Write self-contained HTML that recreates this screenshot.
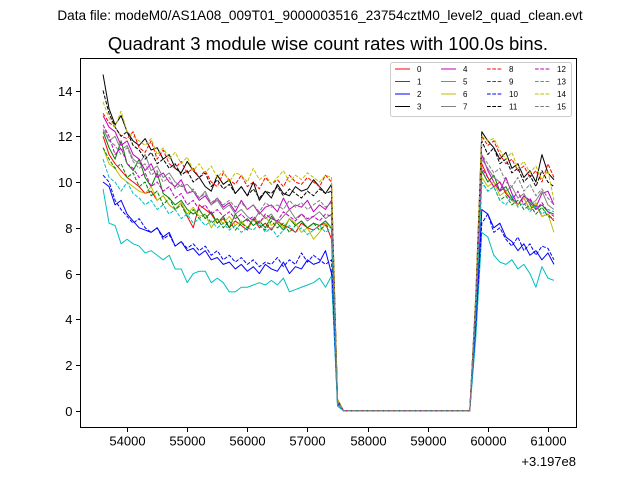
<!DOCTYPE html>
<html><head><meta charset="utf-8"><style>
body{margin:0;background:#fff;}
svg{display:block;font-family:"Liberation Sans","DejaVu Sans",sans-serif;}
</style></head><body>
<svg id="chart" width="640" height="480" viewBox="0 0 640 480">
<rect width="640" height="480" fill="#fff"/>
<text x="320" y="20" font-size="13.6" text-anchor="middle">Data file: modeM0/AS1A08_009T01_9000003516_23754cztM0_level2_quad_clean.evt</text>
<text x="328" y="50" font-size="18.5" text-anchor="middle">Quadrant 3 module wise count rates with 100.0s bins.</text>
<g id="series"></g>
<rect x="80.5" y="58.5" width="496" height="369" fill="none" stroke="#000" stroke-width="1"/>
<g id="axes"></g>
<text x="576" y="466" font-size="13" text-anchor="end">+3.197e8</text>
<g id="legend"></g>
</svg>
<script>
const tStart = 53600;
const binSize = 100;
const yTicks = [0,2,4,6,8,10,12,14];
const xTicks = [54000,55000,56000,57000,58000,59000,60000,61000];
const seriesNames = ["0","1","2","3","4","5","6","7","8","9","10","11","12","13","14","15"];
const colors = ["#ff0000","#008000","#0000ff","#000000","#bf00bf","#00bfbf","#bfbf00","#808080","#ff0000","#008000","#0000ff","#000000","#bf00bf","#00bfbf","#bfbf00","#808080"];
const s0 = [12.0,11.2,10.8,10.5,10.2,10.0,9.8,9.5,9.6,9.2,9.4,9.0,8.8,9.1,8.5,8.0,9.0,8.8,8.6,8.2,8.4,8.0,8.3,8.1,7.9,8.4,8.0,8.2,7.9,8.3,8.1,8.0,7.8,8.2,8.0,7.9,8.1,8.2,7.5,0.4,0,0,0,0,0,0,0,0,0,0,0,0,0,0,0,0,0,0,0,0,0,0,4.5,10.8,10.2,9.8,10.0,9.5,9.2,9.0,9.3,8.8,9.0,8.5,8.6,8.3];
const s1 = [12.2,11.5,11.0,11.8,10.8,10.5,11.0,10.2,9.8,10.4,9.5,9.3,9.0,9.2,8.8,8.6,8.8,8.4,8.7,8.2,8.5,8.0,8.6,8.2,8.4,8.1,8.3,8.0,8.5,8.2,7.9,8.4,8.1,8.3,8.0,8.2,8.1,8.3,8.0,0.4,0,0,0,0,0,0,0,0,0,0,0,0,0,0,0,0,0,0,0,0,0,0,4.3,10.5,10.0,10.3,9.6,9.8,9.3,9.0,9.4,9.1,8.8,9.0,8.7,8.6];
const s2 = [10.0,9.8,9.0,9.2,8.6,8.3,8.0,7.9,7.8,8.0,7.6,7.8,7.2,7.4,7.0,7.1,6.8,7.0,6.6,6.7,6.4,6.5,6.2,6.4,6.1,6.3,6.0,6.4,6.2,6.1,6.5,6.0,6.3,6.2,6.6,6.4,6.5,7.0,6.0,0.3,0,0,0,0,0,0,0,0,0,0,0,0,0,0,0,0,0,0,0,0,0,0,3.8,8.8,8.6,8.0,8.2,7.6,7.4,7.0,7.3,6.8,7.0,6.6,6.9,6.4];
const s3 = [14.7,13.2,12.5,12.9,12.2,11.8,11.6,11.9,11.4,11.5,11.0,11.2,10.6,10.4,10.9,10.5,10.2,9.8,9.6,10.3,9.9,10.1,9.5,9.8,9.4,10.0,9.2,9.6,9.3,9.9,9.5,9.4,9.8,9.6,9.7,10.1,9.8,9.5,9.9,0.5,0,0,0,0,0,0,0,0,0,0,0,0,0,0,0,0,0,0,0,0,0,0,5.0,12.2,11.8,11.5,11.0,11.3,10.6,10.8,10.2,10.5,10.0,11.2,10.4,10.1];
const s4 = [12.9,12.4,12.2,11.6,11.8,11.2,11.0,10.5,10.8,10.2,10.4,10.0,9.8,10.1,9.5,9.6,9.2,9.4,9.0,9.3,8.9,9.1,8.7,9.2,8.8,9.0,8.6,8.9,9.0,8.7,9.3,8.8,9.0,8.9,9.2,8.7,9.0,8.8,9.2,0.4,0,0,0,0,0,0,0,0,0,0,0,0,0,0,0,0,0,0,0,0,0,0,4.6,11.2,10.5,10.0,9.6,10.2,9.5,9.0,9.4,9.2,8.9,9.5,9.6,9.0];
const s5 = [9.7,8.2,8.1,7.3,7.5,7.3,7.2,6.9,7.0,6.8,6.6,6.8,6.2,6.2,5.6,6.0,6.1,6.1,5.6,5.8,5.6,5.2,5.2,5.4,5.4,5.5,5.6,5.5,5.7,5.5,5.8,5.2,5.3,5.4,5.5,5.6,5.8,5.4,5.9,0.2,0,0,0,0,0,0,0,0,0,0,0,0,0,0,0,0,0,0,0,0,0,0,3.2,7.8,7.6,6.8,6.5,6.4,6.6,6.2,6.4,6.0,5.4,6.3,5.8,5.7];
const s6 = [11.5,10.8,10.6,10.2,10.0,9.8,9.6,9.5,9.8,9.2,9.4,9.0,8.8,9.1,8.6,8.9,8.5,8.6,8.0,8.4,8.2,8.5,8.1,8.3,8.0,8.4,8.2,8.5,8.1,8.3,8.0,8.4,8.2,7.8,8.0,7.5,7.8,8.2,8.0,0.4,0,0,0,0,0,0,0,0,0,0,0,0,0,0,0,0,0,0,0,0,0,0,4.5,10.2,9.8,10.0,9.4,9.6,9.2,9.0,9.3,8.8,9.1,8.5,8.6,7.8];
const s7 = [12.3,11.8,12.0,11.4,11.6,11.0,10.8,11.2,10.5,10.7,10.2,10.4,10.0,9.8,9.9,9.6,9.3,9.6,9.0,9.2,8.8,9.0,8.6,8.8,8.5,8.3,8.7,8.4,8.6,8.2,8.5,8.8,8.4,8.6,8.3,8.5,8.7,8.4,8.6,0.4,0,0,0,0,0,0,0,0,0,0,0,0,0,0,0,0,0,0,0,0,0,0,4.8,11.0,10.6,10.2,10.0,9.6,9.8,9.3,9.5,9.0,9.2,9.6,9.0,8.8];
const s8 = [13.0,12.6,12.4,12.0,11.9,12.2,11.5,11.3,11.8,11.0,11.4,10.8,10.6,10.9,10.4,10.6,10.2,10.5,10.0,9.8,10.4,10.1,9.9,10.3,9.8,10.0,9.7,10.2,9.9,10.1,9.8,10.3,10.0,9.9,10.2,10.0,9.8,10.3,10.0,0.5,0,0,0,0,0,0,0,0,0,0,0,0,0,0,0,0,0,0,0,0,0,0,5.0,12.0,11.6,11.8,11.2,10.8,11.0,10.5,10.7,10.2,10.5,10.0,10.8,10.2];
const s9 = [11.5,11.0,10.6,10.8,10.2,10.4,9.8,10.0,9.4,9.6,9.0,9.3,8.8,9.0,8.5,8.8,8.4,8.6,8.2,8.4,8.0,8.3,7.9,8.2,8.0,8.4,8.1,7.9,8.3,8.0,8.2,7.8,8.1,8.3,8.0,8.2,7.9,8.1,8.0,0.4,0,0,0,0,0,0,0,0,0,0,0,0,0,0,0,0,0,0,0,0,0,0,4.3,10.0,9.6,9.8,9.2,9.4,9.0,9.2,8.8,9.0,8.6,8.9,8.5,8.4];
const s10 = [10.3,10.0,9.2,8.8,8.5,8.2,8.4,8.0,7.8,8.0,7.5,7.7,7.2,7.4,7.1,7.3,7.0,7.2,6.8,7.0,6.6,6.8,6.5,6.7,6.4,6.6,6.3,6.5,6.4,6.7,6.3,6.6,6.4,6.9,6.5,6.8,6.6,6.4,6.6,0.3,0,0,0,0,0,0,0,0,0,0,0,0,0,0,0,0,0,0,0,0,0,0,3.7,8.2,8.6,7.8,8.0,7.5,7.2,7.6,7.0,7.3,6.8,7.2,7.1,6.6];
const s11 = [14.0,13.0,12.4,12.0,12.2,11.6,11.4,11.0,11.3,10.8,11.0,10.6,10.8,10.3,10.5,10.0,10.2,10.4,9.8,10.1,9.7,9.9,9.5,9.8,9.4,9.7,9.3,9.6,9.5,9.8,9.4,9.7,9.5,9.3,9.6,9.4,9.7,9.5,9.6,0.5,0,0,0,0,0,0,0,0,0,0,0,0,0,0,0,0,0,0,0,0,0,0,4.9,11.8,11.2,11.5,10.8,11.0,10.4,10.6,10.0,10.3,9.8,10.5,10.0,9.8];
const s12 = [12.5,12.0,11.2,11.5,10.8,10.6,10.2,10.4,9.8,10.0,9.6,9.8,9.3,9.5,9.0,9.2,8.8,9.0,8.6,8.8,8.5,8.7,8.4,8.6,8.3,8.5,8.2,8.6,8.4,8.3,8.7,8.5,8.3,8.6,8.4,8.5,8.3,8.6,8.5,0.4,0,0,0,0,0,0,0,0,0,0,0,0,0,0,0,0,0,0,0,0,0,0,4.6,10.6,10.2,9.8,10.0,9.5,9.2,9.6,9.0,9.3,8.8,9.1,8.7,8.5];
const s13 = [11.0,10.2,10.0,9.6,10.0,9.5,9.3,9.0,9.2,8.8,9.0,8.6,8.8,8.4,8.6,8.2,8.4,8.1,8.3,8.0,8.2,7.9,8.1,7.8,8.0,7.9,8.2,7.8,8.0,7.6,7.9,8.1,7.8,8.0,7.7,7.9,8.1,7.8,8.0,0.3,0,0,0,0,0,0,0,0,0,0,0,0,0,0,0,0,0,0,0,0,0,0,4.2,10.0,9.6,9.8,9.2,9.0,9.4,8.9,9.1,8.7,9.0,8.6,8.8,8.7];
const s14 = [13.5,12.8,12.4,13.1,12.2,12.0,11.8,11.6,11.9,11.2,11.5,11.0,11.3,10.8,11.1,10.5,10.8,10.4,10.7,10.2,10.5,10.0,10.4,10.3,10.0,10.6,10.1,10.3,9.9,10.2,10.5,10.0,10.3,10.1,10.4,10.2,10.0,10.3,10.2,0.5,0,0,0,0,0,0,0,0,0,0,0,0,0,0,0,0,0,0,0,0,0,0,5.2,12.0,11.8,11.9,11.4,11.0,11.3,10.6,10.9,10.4,10.7,10.1,10.5,9.2];
const s15 = [12.5,11.8,11.6,11.2,11.5,10.9,10.6,10.8,10.3,10.5,10.0,10.2,9.7,9.9,9.5,9.7,9.3,9.5,9.1,9.3,9.0,9.2,8.9,9.1,8.8,9.0,8.7,9.1,8.9,9.0,8.8,9.2,8.9,9.1,8.8,9.0,9.2,8.9,9.1,0.4,0,0,0,0,0,0,0,0,0,0,0,0,0,0,0,0,0,0,0,0,0,0,4.8,11.2,10.8,10.4,10.6,10.0,9.8,10.2,9.6,9.9,9.4,9.7,9.3,9.0];
const allSeries = [s0,s1,s2,s3,s4,s5,s6,s7,s8,s9,s10,s11,s12,s13,s14,s15];

const NS = "http://www.w3.org/2000/svg";
const X0 = 80.5, X1 = 576.5, Y0 = 58.5, Y1 = 427.5;
const xMin = 53225, xMax = 61475, yMin = -0.73, yMax = 15.4;
function xScale(t){ return X0 + (t - xMin) / (xMax - xMin) * (X1 - X0); }
function yScale(v){ return Y1 - (v - yMin) / (yMax - yMin) * (Y1 - Y0); }
function mk(tag, attrs){ const e = document.createElementNS(NS, tag); for (const k in attrs) e.setAttribute(k, attrs[k]); return e; }

const sg = document.getElementById("series");
allSeries.forEach((vals, si) => {
  const pts = vals.map((v, i) => xScale(tStart + binSize * i).toFixed(2) + "," + yScale(v).toFixed(2)).join(" ");
  const pl = mk("polyline", {points: pts, fill: "none", stroke: colors[si], "stroke-width": 1, "stroke-linejoin": "round"});
  if (si >= 8) pl.setAttribute("stroke-dasharray", "3.7,1.6");
  
  
  sg.appendChild(pl);
});

const ag = document.getElementById("axes");
yTicks.forEach(v => {
  const y = Math.round(yScale(v)) + 0.5;
  const tk = mk("line", {x1: X0 - 4.5, x2: X0, y1: y, y2: y, stroke: "#000"});
  
  
  ag.appendChild(tk);
  const tx = mk("text", {x: X0 - 8, y: y + 4.5, "font-size": 13, "text-anchor": "end"});
  tx.textContent = String(v);
  
  
  ag.appendChild(tx);
});
xTicks.forEach(t => {
  const x = Math.round(xScale(t)) + 0.5;
  const tk = mk("line", {x1: x, x2: x, y1: Y1, y2: Y1 + 4.5, stroke: "#000"});
  
  
  ag.appendChild(tk);
  const tx = mk("text", {x: x, y: Y1 + 18, "font-size": 13, "text-anchor": "middle"});
  tx.textContent = String(t);
  
  
  ag.appendChild(tx);
});

const lg = document.getElementById("legend");
const box = mk("rect", {x: 390.5, y: 62.5, width: 181, height: 54, rx: 2, fill: "#fff", "fill-opacity": 0.8, stroke: "#ccc"});


lg.appendChild(box);
const colX = [395, 441, 487, 535];
const rowY = [69, 81.5, 94, 106.5];
seriesNames.forEach((nm, i) => {
  const c = Math.floor(i / 4), r = i % 4;
  const g = mk("g", {});
  
  
  const ln = mk("line", {x1: colX[c], x2: colX[c] + 15, y1: rowY[r], y2: rowY[r], stroke: colors[i], "stroke-width": 1});
  if (i >= 8) ln.setAttribute("stroke-dasharray", "3.7,1.6");
  
  
  g.appendChild(ln);
  const tx = mk("text", {x: colX[c] + 22, y: rowY[r] + 3, "font-size": 8});
  tx.textContent = nm;
  
  
  g.appendChild(tx);
  lg.appendChild(g);
});
</script>
</body></html>
